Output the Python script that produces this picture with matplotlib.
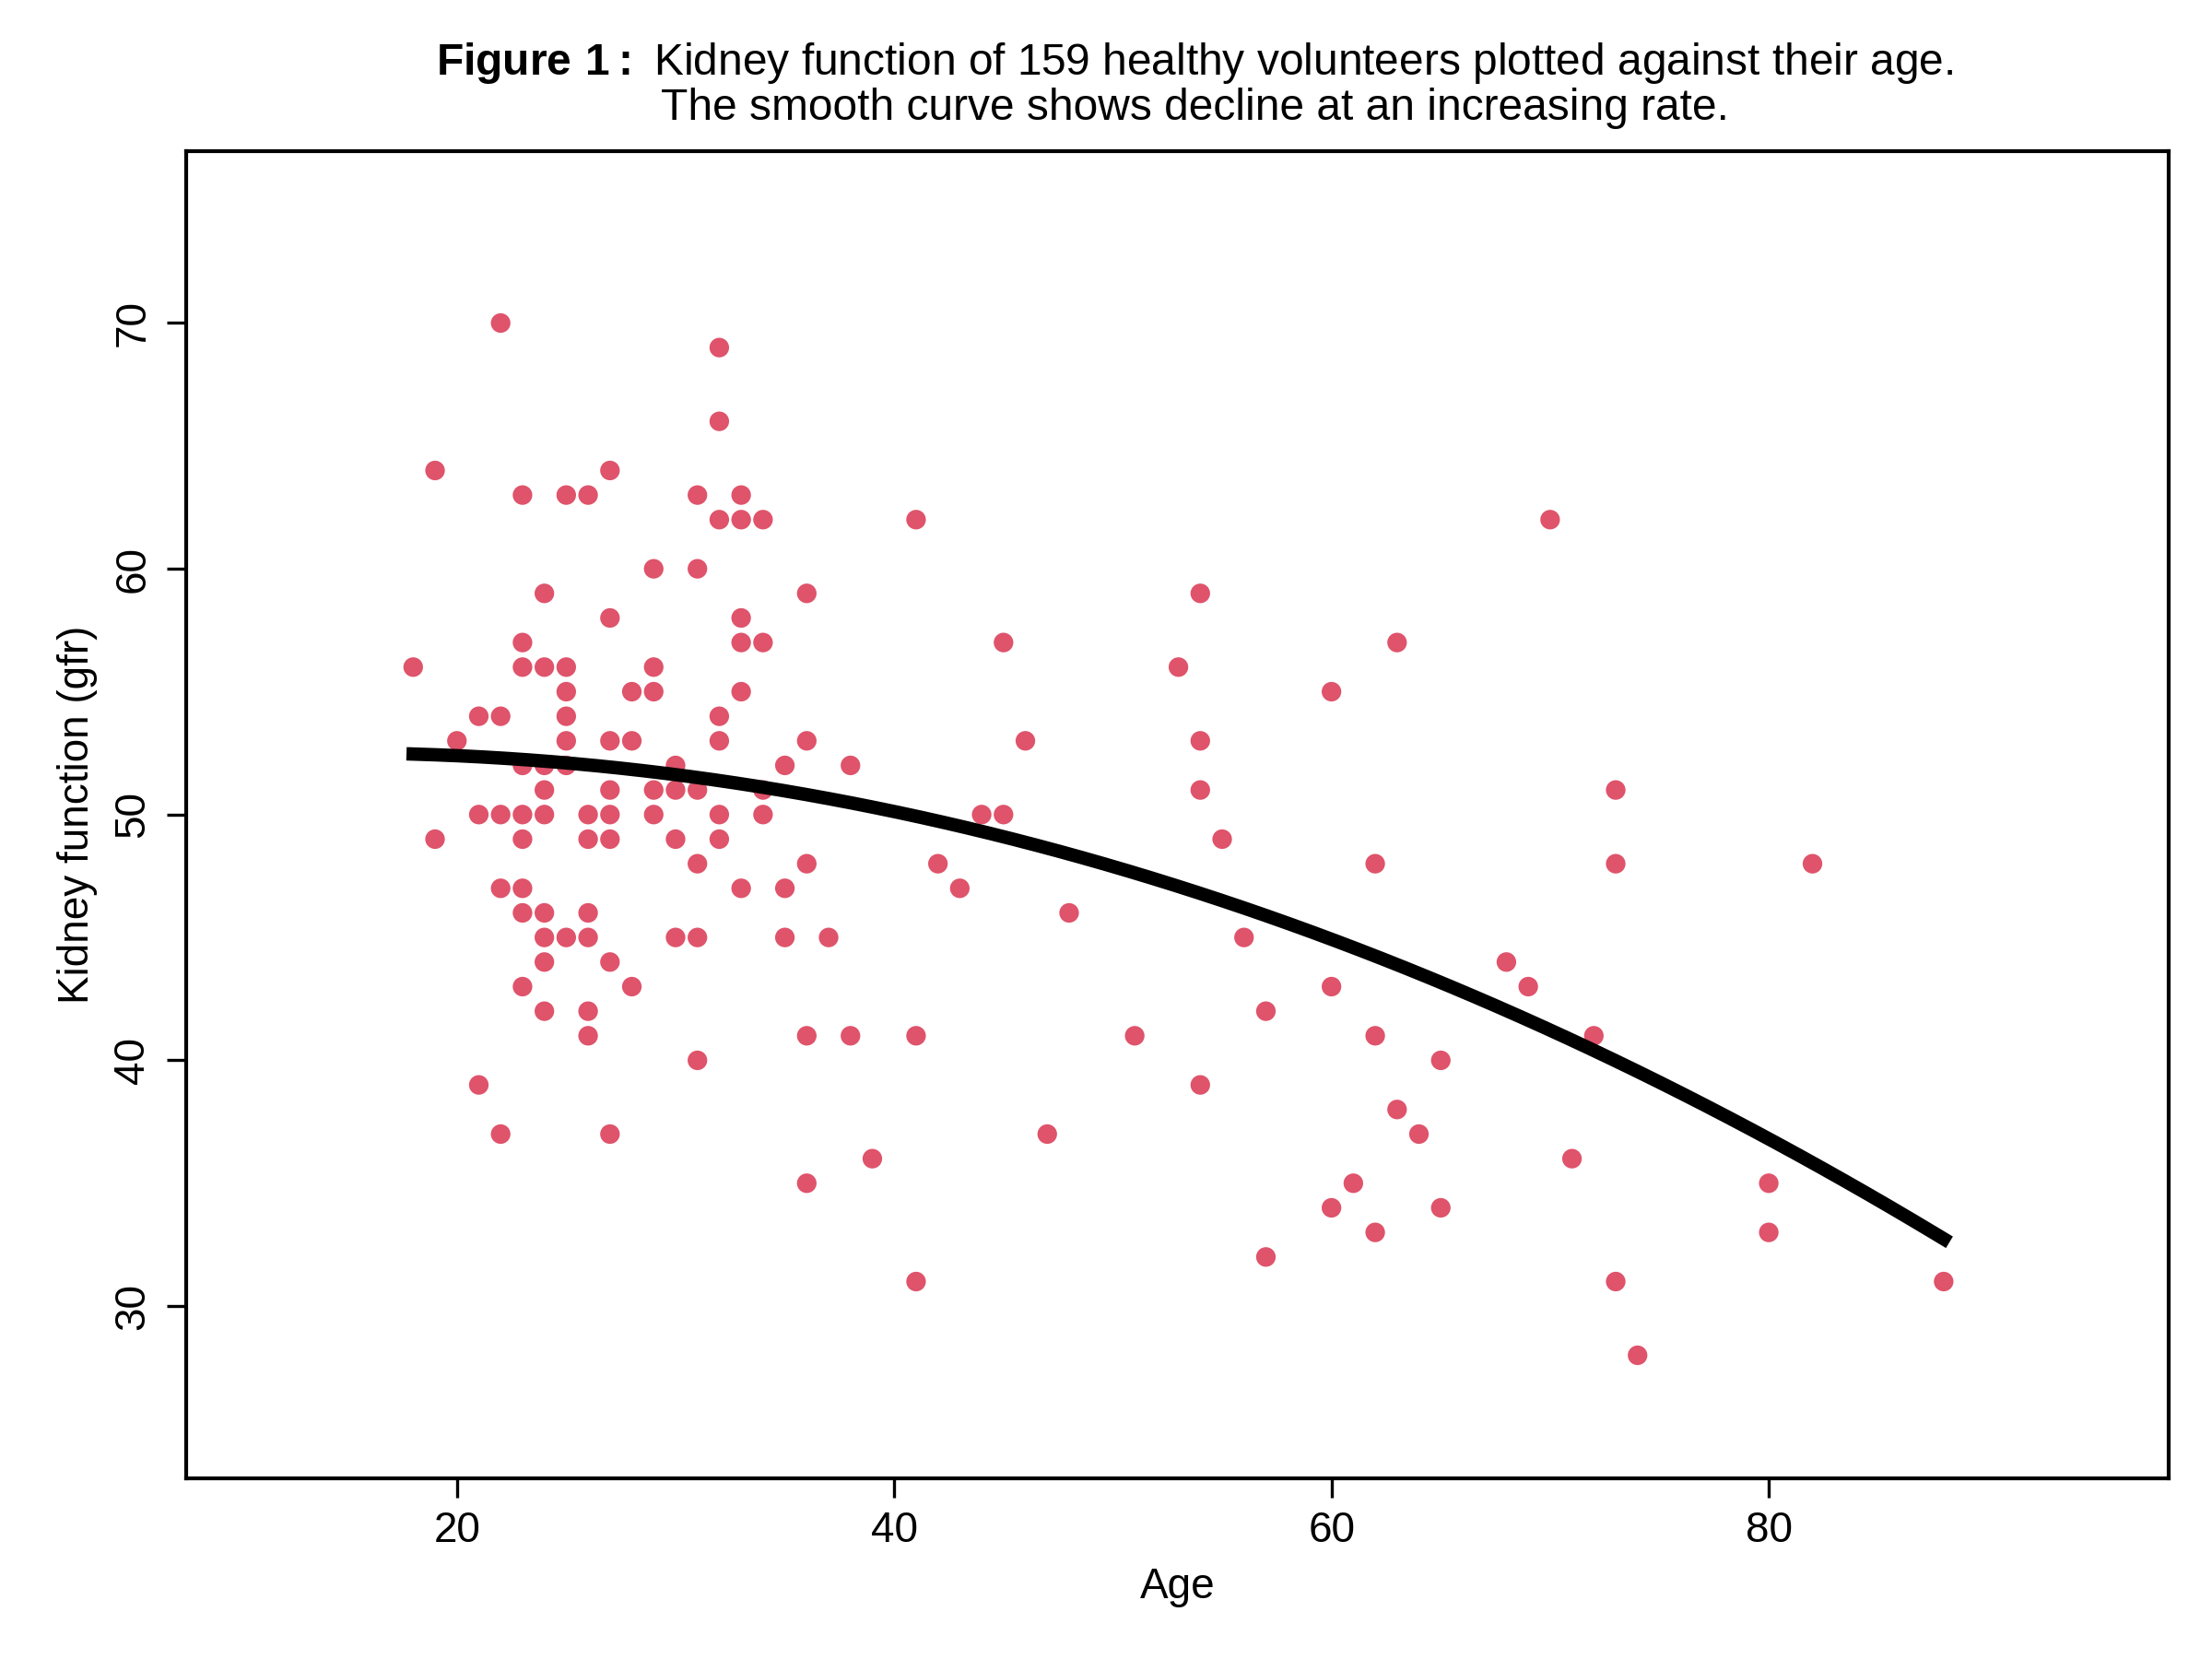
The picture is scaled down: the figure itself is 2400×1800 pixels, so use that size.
import numpy as np
import matplotlib
matplotlib.use("Agg")
import matplotlib.pyplot as plt

plt.rcParams['font.family'] = ['Liberation Sans', 'DejaVu Sans']
plt.rcParams['mathtext.fontset'] = 'custom'
plt.rcParams['mathtext.rm'] = 'Liberation Sans'
plt.rcParams['mathtext.bf'] = 'Liberation Sans:bold'

ages_gfr = {
    18: [56], 19: [64, 49], 20: [53], 21: [54, 50, 39],
    22: [70, 54, 50, 47, 37],
    23: [63, 57, 56, 52, 50, 49, 47, 46, 43],
    24: [59, 56, 52, 51, 50, 46, 45, 44, 42],
    25: [63, 56, 55, 54, 53, 52, 45],
    26: [63, 50, 49, 46, 45, 42, 41],
    27: [64, 58, 53, 51, 50, 49, 44, 37],
    28: [55, 53, 43], 29: [60, 56, 55, 51, 50], 30: [52, 51, 49, 45],
    31: [63, 60, 51, 48, 45, 40], 32: [69, 66, 62, 54, 53, 50, 49],
    33: [63, 62, 58, 57, 55, 47], 34: [62, 57, 51, 50], 35: [52, 47, 45],
    36: [59, 53, 48, 41, 35], 37: [45], 38: [52, 41], 39: [36],
    41: [62, 41, 31], 42: [48], 43: [47], 44: [50], 45: [57, 50], 46: [53],
    47: [37], 48: [46], 51: [41], 53: [56], 54: [59, 53, 51, 39], 55: [49],
    56: [45], 57: [42, 32], 60: [55, 43, 34], 61: [35], 62: [48, 41, 33],
    63: [57, 38], 64: [37], 65: [40, 34], 68: [44], 69: [43], 70: [62],
    71: [36], 72: [41], 73: [51, 48, 31], 74: [28], 80: [35, 33], 82: [48],
    88: [31],
}
age = [a for a, vs in ages_gfr.items() for _ in vs]
gfr = [v for vs in ages_gfr.values() for v in vs]

curve_age = [18, 30, 40, 50, 60, 70, 80, 88]
curve_gfr = [52.5, 51.6, 50.1, 47.8, 45.0, 41.3, 36.8, 32.7]
coef = np.polyfit(curve_age, curve_gfr, 2)
xs = np.linspace(18, 88, 200)

fig = plt.figure(figsize=(8, 6), dpi=300)
ax = fig.add_axes([0.084, 0.109, 0.8965, 0.800])
ax.scatter(age, gfr, s=26, color='#DF536B', edgecolors='none', zorder=2)
ax.plot(xs, np.polyval(coef, xs), color='black', lw=3.5, zorder=3)
ax.set_xlim(7.6, 98.3)
ax.set_ylim(23, 77)
ax.set_xticks([20, 40, 60, 80])
ax.set_yticks([30, 40, 50, 60, 70])
for lab in ax.get_yticklabels():
    lab.set_rotation(90)
    lab.set_va('center')
ax.tick_params(labelsize=11, length=5)
for s in ax.spines.values():
    s.set_linewidth(1.0)
ax.set_xlabel('Age', fontsize=11)
ax.set_ylabel('Kidney function (gfr)', fontsize=11)
fig.text(0.54, 0.962, r'$\mathbf{Figure\ 1{:}}$ Kidney function of 159 healthy volunteers plotted against their age.',
         ha='center', va='center', fontsize=11.5)
fig.text(0.54, 0.935, 'The smooth curve shows decline at an increasing rate.',
         ha='center', va='center', fontsize=11.5)
fig.savefig('out.png', dpi=300)
